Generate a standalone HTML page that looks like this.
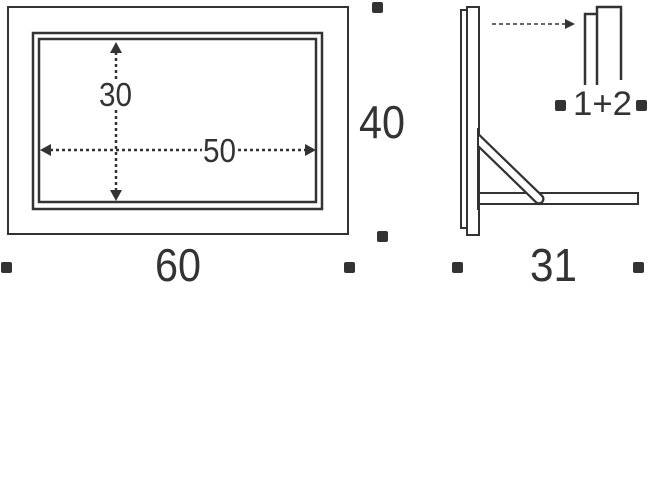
<!DOCTYPE html>
<html><head><style>html,body{margin:0;padding:0;background:#fff;}svg{display:block}</style></head>
<body>
<svg width="650" height="485" viewBox="0 0 650 485" xmlns="http://www.w3.org/2000/svg">
<defs><clipPath id="c"><rect x="479" y="100" width="100" height="120"/></clipPath></defs>
<g fill="none" stroke="#333" stroke-width="2">
<rect x="8" y="7" width="340" height="227"/>
<rect x="33" y="33" width="289" height="176" stroke-width="2.5"/>
<rect x="39" y="39" width="277" height="163" stroke-width="2.5"/>
</g>
<g stroke="#333" stroke-width="2.5" stroke-dasharray="3,3">
<line x1="116" y1="52" x2="116" y2="80"/>
<line x1="116" y1="110" x2="116" y2="192"/>
<line x1="50" y1="150" x2="202" y2="150"/>
<line x1="238" y1="150" x2="306" y2="150"/>
</g>
<g fill="#333">
<polygon points="116,42 110,53 122,53"/>
<polygon points="116,201 110,190 122,190"/>
<polygon points="40,150 51,144 51,156"/>
<polygon points="316,150 305,144 305,156"/>
<rect x="372" y="2" width="11" height="11" rx="2"/>
<rect x="377" y="231" width="11" height="11" rx="2"/>
<rect x="1" y="262" width="11" height="11" rx="2"/>
<rect x="344" y="262" width="11" height="11" rx="2"/>
<rect x="452" y="262" width="11" height="11" rx="2"/>
<rect x="633" y="262" width="11" height="11" rx="2"/>
<rect x="555" y="100" width="11" height="11" rx="2"/>
<rect x="636" y="100" width="11" height="11" rx="2"/>
</g>
<g font-family="'Liberation Sans',sans-serif" fill="#333">
<text x="99" y="106" font-size="33" textLength="33" lengthAdjust="spacingAndGlyphs">30</text>
<text x="203" y="162" font-size="33" textLength="33" lengthAdjust="spacingAndGlyphs">50</text>
<text x="359" y="138" font-size="46" textLength="46" lengthAdjust="spacingAndGlyphs">40</text>
<text x="155" y="281" font-size="46" textLength="46" lengthAdjust="spacingAndGlyphs">60</text>
<text x="530" y="281" font-size="46" textLength="47" lengthAdjust="spacingAndGlyphs">31</text>
<text x="573" y="115" font-size="34" textLength="59" lengthAdjust="spacingAndGlyphs">1+2</text>
</g>
<g fill="none" stroke="#333" stroke-width="2">
<rect x="461" y="10" width="6" height="218"/>
<rect x="467" y="7" width="12" height="228"/>
<rect x="479" y="193" width="159" height="11"/>
</g>
<g clip-path="url(#c)">
<line x1="472" y1="134" x2="539" y2="199" stroke="#333" stroke-width="11" stroke-linecap="round"/>
<line x1="472" y1="134" x2="539" y2="199" stroke="#fff" stroke-width="6.5" stroke-linecap="round"/>
</g>
<line x1="478" y1="128" x2="478" y2="210" stroke="#333" stroke-width="2"/>
<line x1="492" y1="24" x2="566" y2="24" stroke="#333" stroke-width="1.5" stroke-dasharray="4,3"/>
<polygon points="575,24 565,19 565,29" fill="#333"/>
<polyline points="585,85 585,14 597,14" fill="none" stroke="#333" stroke-width="2.5"/>
<polyline points="597,85 597,7 621,7 621,80" fill="none" stroke="#333" stroke-width="2.5"/>
</svg>
</body></html>
